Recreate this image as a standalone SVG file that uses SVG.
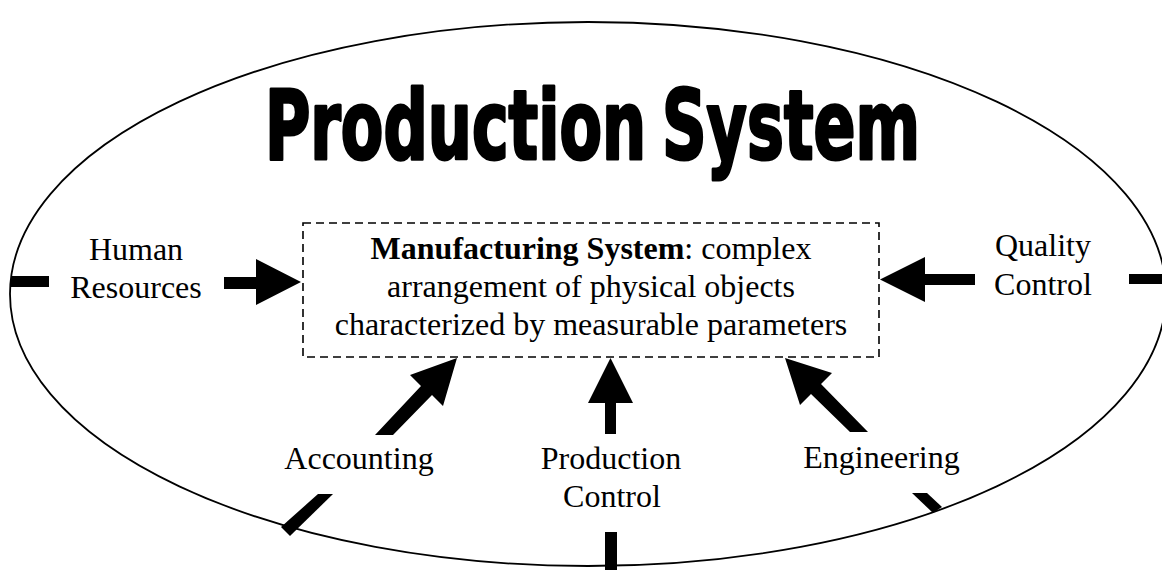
<svg xmlns="http://www.w3.org/2000/svg" width="1162" height="570" viewBox="0 0 1162 570">
<style>
.lbl{font-family:"Liberation Serif","Times New Roman",serif;font-size:32px;fill:#000;text-anchor:middle}
.title{font-family:"DejaVu Sans Condensed","Liberation Sans Narrow","Liberation Sans",sans-serif;font-weight:bold;font-size:97px;fill:#000;stroke:#000;stroke-width:3;stroke-linejoin:round;text-anchor:middle}
.arrow{fill:#000;stroke:none}
.tick{fill:#000;stroke:none}
</style>
<rect x="0" y="0" width="1162" height="570" fill="#fff"/>
<g id="production-system">
<ellipse cx="588" cy="294" rx="578" ry="272" fill="none" stroke="#000" stroke-width="1.8"/>
<text class="title" transform="translate(592.5,159) scale(0.71,1)" x="0" y="0" word-spacing="-8">Production System</text>
</g>
<g id="ticks">
<rect class="tick" x="11" y="276" width="38" height="11"/>
<rect class="tick" x="1129" y="274" width="35" height="10"/>
<rect class="tick" x="605" y="532" width="12" height="38"/>
<polygon class="tick" points="318,494 333,494 290,536 281,527"/>
<polygon class="tick" points="912,493 927,493 942,507 933,513"/>
</g>
<g id="manufacturing-system">
<rect x="303" y="223" width="576" height="134" fill="none" stroke="#000" stroke-width="1.6" stroke-dasharray="8 5"/>
<text class="lbl" x="591" y="259"><tspan font-weight="bold">Manufacturing System</tspan>: complex</text>
<text class="lbl" x="591" y="297">arrangement of physical objects</text>
<text class="lbl" x="591" y="335">characterized by measurable parameters</text>
</g>
<g id="human-resources">
<text class="lbl" x="136" y="260">Human</text>
<text class="lbl" x="136" y="298">Resources</text>
</g>
<g id="quality-control">
<text class="lbl" x="1043" y="256">Quality</text>
<text class="lbl" x="1043" y="295">Control</text>
</g>
<g id="accounting">
<text class="lbl" x="359" y="469">Accounting</text>
</g>
<g id="production-control">
<text class="lbl" x="611" y="469">Production</text>
<text class="lbl" x="612" y="507">Control</text>
</g>
<g id="engineering">
<text class="lbl" x="881.5" y="468">Engineering</text>
</g>
<g id="connectors">
<polygon class="arrow" points="224,277 256,277 256,259 301,282 256,305 256,289 224,289"/>
<polygon class="arrow" points="975,274 925,274 925,257 880,279.5 925,302 925,285 975,285"/>
<polygon class="arrow" points="605,434 605,403 588,403 610.5,358 633,403 616,403 616,434"/>
<polygon class="arrow" points="375,435 421,386 410,375 457,358 443,406 432,395 393,435"/>
<polygon class="arrow" points="850,432 811,394 800,405 785,358 832,373 821,384 868,432"/>
</g>
</svg>
